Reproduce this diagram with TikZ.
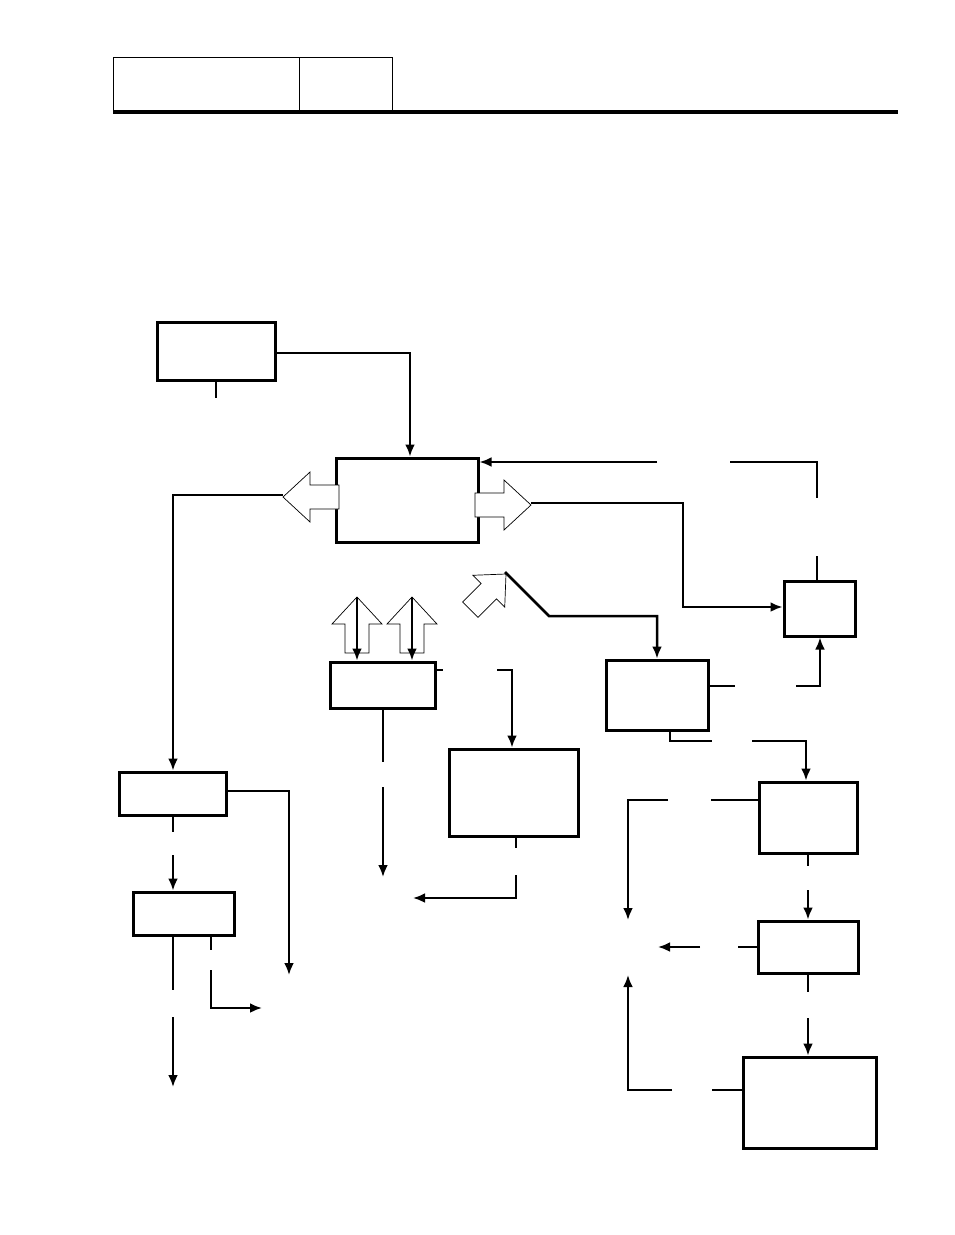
\documentclass[tikz,border=0pt]{standalone}
\usetikzlibrary{arrows.meta}
\tikzset{
  box/.style={draw, line width=3pt, inner sep=0pt},
  conn/.style={line width=2.5pt, -{Latex[length=12pt,width=10pt]}},
  wire/.style={line width=2.5pt},
  fat/.style={draw, fill=white, line width=0.7pt},
}
% hollow arrow pointing along +x, tip at origin
\newcommand{\fatarrow}[1]{\draw[fat,#1] (0,0) -- (-27,-25) -- (-27,-12) -- (-56,-12) -- (-56,12) -- (-27,12) -- (-27,25) -- cycle;}
\begin{document}
\begin{tikzpicture}[x=1pt,y=-1pt]
\useasboundingbox (0,0) rectangle (954,1235);

% Header
  \draw[line width=0.8pt] (113,57) rectangle (299,110) (299,57) rectangle (392,110);
  \draw[line width=4pt] (113,112) -- (898,112);

% Boxes
  \node[box, minimum width=118, minimum height=58] (src) at (216,351) {};
  \node[box, minimum width=142, minimum height=84] (core) at (407,500) {};
  \node[box, minimum width=71, minimum height=55] (rgt) at (819.5,608.5) {};
  \node[box, minimum width=105, minimum height=46] (mid) at (382.5,685) {};
  \node[box, minimum width=129, minimum height=87] (low) at (513.5,792.5) {};
  \node[box, minimum width=102, minimum height=70] (mod) at (657,695) {};
  \node[box, minimum width=107, minimum height=43] (lft) at (172.5,793.5) {};
  \node[box, minimum width=101, minimum height=43] (lft2) at (183.5,913.5) {};
  \node[box, minimum width=98, minimum height=71] (e1) at (808,817.5) {};
  \node[box, minimum width=100, minimum height=52] (e2) at (808,947) {};
  \node[box, minimum width=133, minimum height=91] (e3) at (809.5,1102.5) {};

% Hollow arrows
  \fatarrow{shift={(283,497)}, rotate=180}
  \fatarrow{shift={(531,505)}}
  \fatarrow{shift={(357,597)}, rotate=90}
  \fatarrow{shift={(412,597)}, rotate=90}
  \fatarrow{shift={(506,574)}, rotate=45, scale=0.9}
  \coordinate (hl) at (283,495);
  \coordinate (hr) at (531,503);
  \coordinate (hd1) at (357,597);
  \coordinate (hd2) at (412,597);
  \coordinate (hdr) at (505,572);

% Connectors
  \draw[conn] (src.east |- 0,353) -- (410,353) -- (410,0 |- core.north);
  \draw[wire] (216,380) -- (216,398);
  \draw[conn] (657,462) -- (core.east |- 0,462);
  \draw[wire] (730,462) -- (817,462) -- (817,498);
  \draw[wire] (817,556) -- (817,0 |- rgt.north);
  \draw[conn] (hl) -- (173,495) -- (173,0 |- lft.north);
  \draw[conn] (hr) -- (683,503) -- (683,607) -- (rgt.west |- 0,607);
  \draw[conn] (hdr) -- (549,616) -- (657,616) -- (657,0 |- mod.north);
  \draw[conn] (hd1) -- (357,0 |- mid.north);
  \draw[conn] (hd2) -- (412,0 |- mid.north);
  \draw[wire] (435,670) -- (443,670);
  \draw[conn] (497,670) -- (512,670) -- (512,0 |- low.north);
  \draw[wire] (383,708) -- (383,762);
  \draw[conn] (383,787) -- (383,877);
  \draw[wire] (516,836) -- (516,848);
  \draw[conn] (516,875) -- (516,898) -- (413,898);
  \draw[wire] (lft.east |- 0,791) -- (289,791) -- (289,826);
  \draw[conn] (289,826) -- (289,975);
  \draw[wire] (173,815) -- (173,832);
  \draw[conn] (173,855) -- (173,0 |- lft2.north);
  \draw[wire] (173,935) -- (173,990);
  \draw[conn] (173,1017) -- (173,1087);
  \draw[wire] (211,935) -- (211,950);
  \draw[conn] (211,970) -- (211,1008) -- (262,1008);
  \draw[wire] (mod.east |- 0,686) -- (735,686);
  \draw[conn] (796,686) -- (820,686) -- (820,0 |- rgt.south);
  \draw[wire] (670,730) -- (670,741) -- (712,741);
  \draw[conn] (752,741) -- (806,741) -- (806,0 |- e1.north);
  \draw[wire] (e1.west |- 0,800) -- (711,800);
  \draw[conn] (668,800) -- (628,800) -- (628,920);
  \draw[wire] (808,853) -- (808,866);
  \draw[conn] (808,890) -- (808,0 |- e2.north);
  \draw[wire] (e2.west) -- (738,947);
  \draw[conn] (700,947) -- (658,947);
  \draw[wire] (808,973) -- (808,992);
  \draw[conn] (808,1018) -- (808,0 |- e3.north);
  \draw[wire] (e3.west |- 0,1090) -- (712,1090);
  \draw[conn] (672,1090) -- (628,1090) -- (628,975);

\end{tikzpicture}
\end{document}
